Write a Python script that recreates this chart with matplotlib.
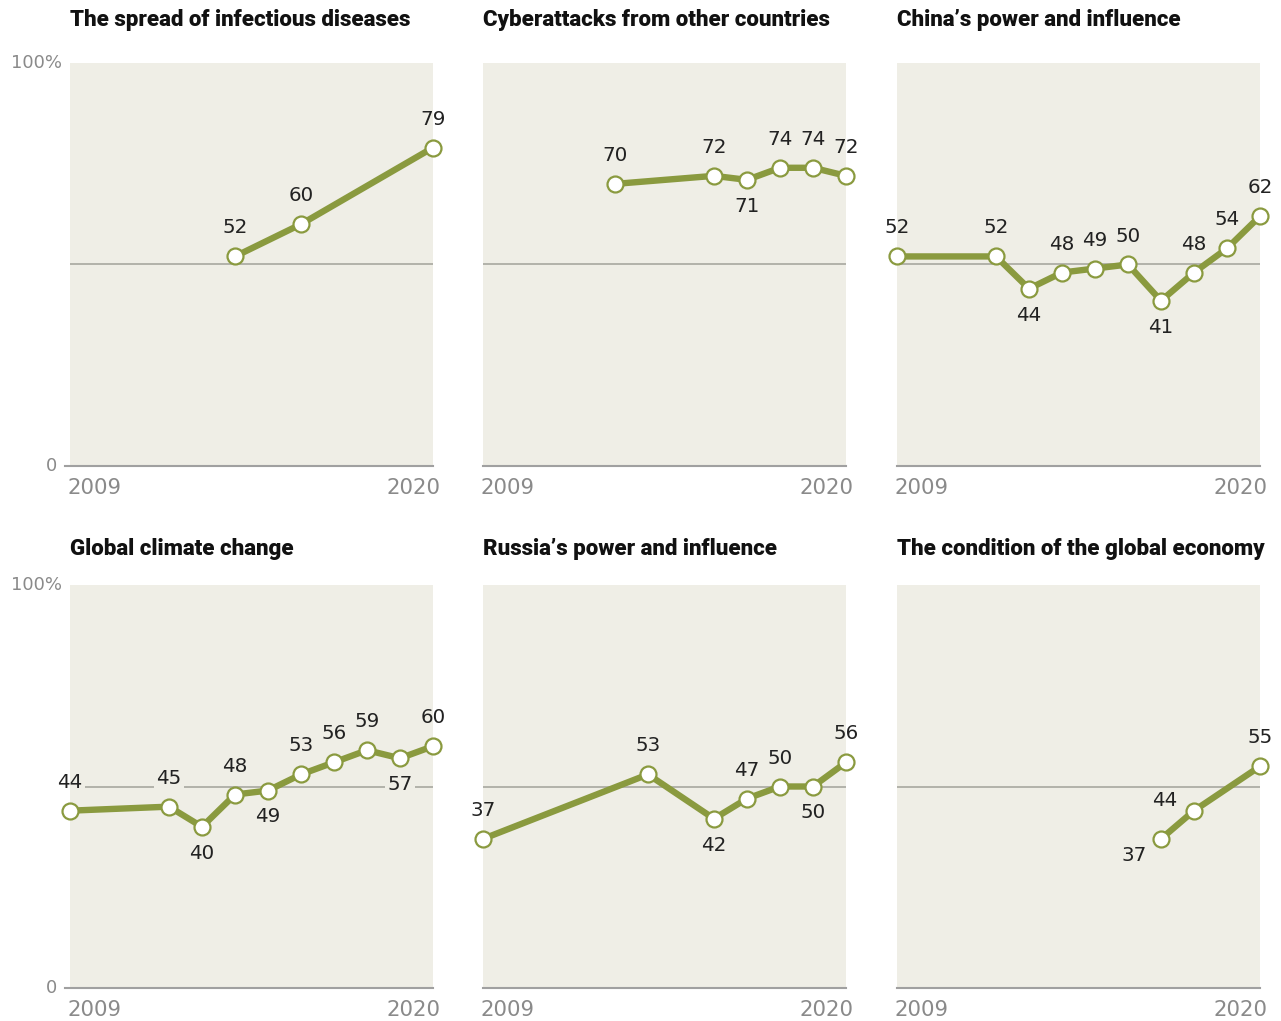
import matplotlib
matplotlib.use("Agg")
import matplotlib.pyplot as plt

titles = ["The spread of infectious diseases", "Cyberattacks from other countries",
          "China\u2019s power and influence", "Global climate change",
          "Russia\u2019s power and influence", "The condition of the global economy"]

disease_years = [2014, 2016, 2020]
disease_vals = [52, 60, 79]
disease_pos = ["a", "a", "a"]

cyber_years = [2013, 2016, 2017, 2018, 2019, 2020]
cyber_vals = [70, 72, 71, 74, 74, 72]
cyber_pos = ["a", "a", "b", "a", "a", "a"]

china_years = [2009, 2012, 2013, 2014, 2015, 2016, 2017, 2018, 2019, 2020]
china_vals = [52, 52, 44, 48, 49, 50, 41, 48, 54, 62]
china_pos = ["a", "a", "b", "a", "a", "a", "b", "a", "a", "a"]

climate_years = [2009, 2012, 2013, 2014, 2015, 2016, 2017, 2018, 2019, 2020]
climate_vals = [44, 45, 40, 48, 49, 53, 56, 59, 57, 60]
climate_pos = ["a", "a", "b", "a", "b", "a", "a", "a", "b", "a"]

russia_years = [2009, 2014, 2016, 2017, 2018, 2019, 2020]
russia_vals = [37, 53, 42, 47, 50, 50, 56]
russia_pos = ["a", "a", "b", "a", "a", "b", "a"]

economy_years = [2017, 2018, 2020]
economy_vals = [37, 44, 55]
economy_pos = ["bl", "al", "a"]

series = [(disease_years, disease_vals, disease_pos),
          (cyber_years, cyber_vals, cyber_pos),
          (china_years, china_vals, china_pos),
          (climate_years, climate_vals, climate_pos),
          (russia_years, russia_vals, russia_pos),
          (economy_years, economy_vals, economy_pos)]

BG = "#EFEEE6"
GREEN = "#8A9A3F"
GRAY = "#8A8A8A"
W, H = 1281, 1021
fig = plt.figure(figsize=(W / 100, H / 100), dpi=100)

lefts = [70, 483, 897]
tops = [63, 585]
title_y = [20, 549]
pw, ph = 363, 403

offsets = {"a": (0, 20.5), "b": (0, -19), "al": (-21, 7), "bl": (-19, -12)}
NUMFONT = "DejaVu Sans"
LBL = 14.3

for i, (yrs, vals, pos) in enumerate(series):
    r, c = divmod(i, 3)
    l, t = lefts[c], tops[r]
    ax = fig.add_axes([l / W, 1 - (t + ph) / H, pw / W, ph / H])
    ax.set_facecolor(BG)
    ax.set_xlim(2009, 2020)
    ax.set_ylim(0, 100)
    for s in ax.spines.values():
        s.set_visible(False)
    ax.set_xticks([])
    ax.set_yticks([])
    ax.axhline(50, color="#A8A8A0", lw=1.2, zorder=1)
    ax.plot([-0.015 if c == 0 else 0, 1], [0, 0], transform=ax.transAxes,
            color="#A0A0A0", lw=1.5, clip_on=False, zorder=1)
    ax.plot(yrs, vals, color=GREEN, lw=4.6, zorder=3, clip_on=False,
            marker="o", ms=11.5, mfc="white", mec=GREEN, mew=1.6)
    for x, v, p in zip(yrs, vals, pos):
        dx, dy = offsets[p]
        # background box (clipped to panel) to break the gridline
        ax.annotate(str(v), (x, v), xytext=(dx, dy), textcoords="offset points",
                    ha="center", va="center", fontsize=LBL, color=(0, 0, 0, 0),
                    family=NUMFONT, zorder=2, annotation_clip=False, clip_on=True,
                    bbox=dict(boxstyle="square,pad=0.1", fc=BG, ec="none"))
        ax.annotate(str(v), (x, v), xytext=(dx, dy), textcoords="offset points",
                    ha="center", va="center", fontsize=LBL, color="#222222",
                    family=NUMFONT, zorder=2.5, annotation_clip=False)
    tr = ax.transAxes
    ax.text(-0.008, -0.055, "2009", transform=tr, ha="left", va="center",
            fontsize=15.3, color=GRAY, family=NUMFONT)
    ax.text(1.022, -0.055, "2020", transform=tr, ha="right", va="center",
            fontsize=15.3, color=GRAY, family=NUMFONT)
    fig.text(l / W, 1 - title_y[r] / H, titles[i], ha="left", va="center",
             fontsize=16, fontweight="black", color="#111111", family="Roboto")
    if c == 0:
        ax.text(-0.022, 1.0, "100%", transform=tr, ha="right", va="center",
                fontsize=13, color=GRAY, family=NUMFONT)
        ax.text(-0.035, 0.0, "0", transform=tr, ha="right", va="center",
                fontsize=13, color=GRAY, family=NUMFONT)

fig.savefig("out.png", dpi=100, facecolor="white")
